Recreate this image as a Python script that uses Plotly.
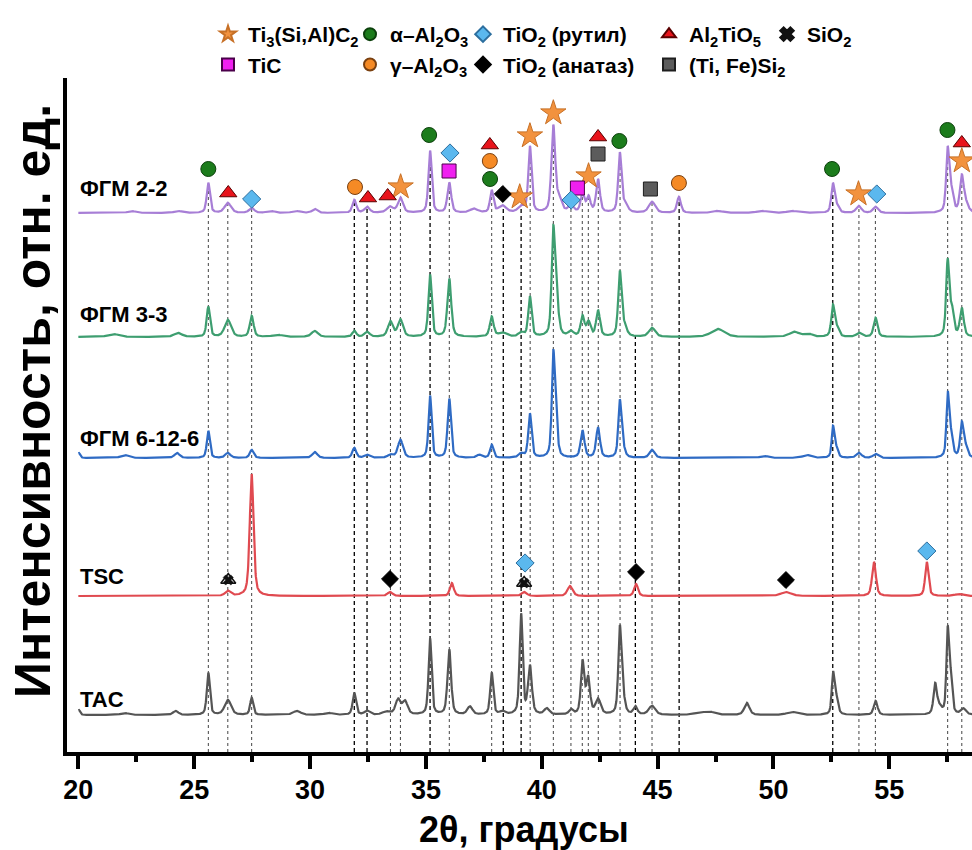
import numpy as np
import plotly.graph_objects as go

# ---------------------------------------------------------------------------
# XRD patterns: baseline offset and peak table (2θ, height, FWHM) per sample,
# intensities in arbitrary units (patterns are stacked by their offsets)
# ---------------------------------------------------------------------------
two_theta_min, two_theta_max = 20.0, 58.6

fgm22_offset = 539
fgm22_peaks = [
    (22.3, 2, 0.3), (24.3, 2, 0.3), (25.61, 30, 0.13), (26.45, 10, 0.25),
    (27.48, 5, 0.2), (28.3, 2, 0.3), (29.4, 2, 0.3), (30.2, 4, 0.2),
    (31.91, 13, 0.15), (32.46, 6, 0.2), (33.45, 6, 0.25), (33.9, 15, 0.2),
    (35.18, 62, 0.13), (36.01, 30, 0.15), (37.07, 4, 0.3), (37.84, 22, 0.13),
    (38.3, 7, 0.3), (39.11, 6, 0.25), (39.49, 66, 0.13), (40.5, 86, 0.15),
    (40.75, 12, 0.2), (41.26, 7, 0.2), (41.76, 18, 0.15), (42.02, 15, 0.15),
    (42.43, 33, 0.15), (43.37, 59, 0.13), (43.6, 8, 0.2), (44.76, 11, 0.25),
    (45.92, 16, 0.15), (47.6, 2, 0.4), (49.5, 2, 0.4), (50.8, 2, 0.4),
    (52.57, 29, 0.13), (52.75, 6, 0.15), (53.68, 7, 0.2), (54.41, 6, 0.2),
    (57.52, 62, 0.12), (57.68, 20, 0.15), (58.13, 35, 0.15), (58.3, 8, 0.2),
]

fgm33_offset = 415
fgm33_peaks = [
    (21.5, 3, 0.4), (24.3, 4, 0.3), (25.61, 30, 0.13), (26.45, 17, 0.25),
    (27.48, 21, 0.15), (28.6, 2, 0.4), (30.2, 6, 0.25), (31.91, 6, 0.15),
    (32.46, 5, 0.2), (33.47, 15, 0.2), (33.9, 17, 0.2), (35.18, 62, 0.13),
    (36.01, 58, 0.15), (37.84, 20, 0.15), (38.3, 4, 0.3), (39.11, 4, 0.2),
    (39.49, 40, 0.13), (40.5, 104, 0.13), (40.65, 30, 0.15), (41.26, 5, 0.2),
    (41.76, 20, 0.15), (42.02, 14, 0.15), (42.43, 26, 0.15), (43.37, 63, 0.13),
    (43.55, 10, 0.2), (44.76, 9, 0.25), (47.6, 8, 0.5), (50.9, 5, 0.4),
    (51.5, 3, 0.3), (52.57, 31, 0.13), (52.75, 8, 0.15), (53.69, 4, 0.2),
    (54.41, 19, 0.15), (57.52, 74, 0.12), (57.7, 26, 0.15), (58.13, 28, 0.15),
]

fgm6126_offset = 294
fgm6126_peaks = [
    (20.02, 5, 0.1), (22.0, 3, 0.3), (24.26, 5, 0.2), (25.61, 27, 0.12),
    (26.45, 5, 0.2), (27.48, 8, 0.15), (30.2, 6, 0.2), (31.91, 10, 0.15),
    (32.46, 3, 0.2), (33.47, 3, 0.2), (33.9, 18, 0.2), (35.18, 62, 0.12),
    (36.01, 59, 0.13), (37.3, 3, 0.2), (37.84, 13, 0.13), (39.11, 4, 0.2),
    (39.49, 44, 0.13), (40.5, 100, 0.12), (40.62, 26, 0.13), (41.76, 27, 0.15),
    (42.43, 30, 0.15), (43.37, 55, 0.12), (43.5, 10, 0.15), (44.76, 8, 0.2),
    (49.6, 2, 0.3), (51.44, 3, 0.3), (52.57, 29, 0.1), (52.7, 10, 0.15),
    (53.69, 5, 0.2), (54.41, 4, 0.2), (57.52, 59, 0.1), (57.65, 24, 0.15),
    (58.13, 34, 0.13), (58.3, 10, 0.15),
]

tsc_offset = 156
tsc_peaks = [
    (26.45, 5, 0.2), (27.48, 122, 0.15), (33.45, 4, 0.2), (36.12, 13, 0.15),
    (39.24, 4, 0.2), (41.22, 10, 0.2), (44.07, 12, 0.15), (50.54, 4, 0.4),
    (54.34, 34, 0.15), (56.62, 34, 0.13), (58.0, 2, 0.3),
]

tac_offset = 37
tac_peaks = [
    (20.02, 5, 0.1), (22.0, 2, 0.3), (24.2, 4, 0.2), (25.61, 42, 0.12),
    (26.45, 15, 0.25), (27.48, 17, 0.12), (29.43, 4, 0.3), (30.8, 2, 0.3),
    (31.91, 22, 0.13), (32.46, 4, 0.2), (33.3, 3, 0.3), (33.8, 15, 0.2),
    (34.1, 13, 0.2), (35.18, 76, 0.12), (36.01, 65, 0.14), (36.9, 8, 0.2),
    (37.84, 42, 0.12), (38.3, 3, 0.2), (39.11, 100, 0.12), (39.49, 48, 0.15),
    (40.22, 6, 0.2), (41.26, 5, 0.15), (41.76, 52, 0.13), (42.0, 36, 0.15),
    (42.43, 15, 0.2), (43.37, 84, 0.12), (43.5, 17, 0.15), (44.04, 8, 0.15),
    (44.76, 9, 0.25), (46.8, 2, 0.4), (47.25, 3, 0.4), (48.85, 12, 0.2),
    (50.8, 3, 0.4), (52.57, 38, 0.1), (52.7, 18, 0.15), (54.41, 14, 0.15),
    (56.98, 29, 0.13), (57.15, 7, 0.2), (57.52, 81, 0.1), (57.65, 36, 0.12),
    (58.2, 6, 0.2),
]

sample_names = ["ФГМ 2-2", "ФГМ 3-3", "ФГМ 6-12-6", "TSC", "TAC"]

# ---------------------------------------------------------------------------
# Phase identification: (2θ, intensity level of the symbol)
# ---------------------------------------------------------------------------
ti3sic2_pos = [33.91, 39.05, 39.49, 40.50, 42.02, 53.67, 58.13]
ti3sic2_lvl = [565, 555, 616, 639, 576, 558, 591]
tic_pos = [36.0, 41.54]
tic_lvl = [581, 564]
alpha_al2o3_pos = [25.61, 35.14, 37.77, 43.35, 52.53, 57.51]
alpha_al2o3_lvl = [583, 617, 573, 611, 583, 622]
gamma_al2o3_pos = [31.94, 37.76, 45.92]
gamma_al2o3_lvl = [565, 591, 569]
rutile_pos = [27.48, 36.04, 41.27, 54.46, 39.28, 56.62]
rutile_lvl = [553, 599, 552, 558, 189, 201]
anatase_pos = [38.32, 33.45, 44.07, 50.54]
anatase_lvl = [558, 173, 180, 172]
al2tio5_pos = [26.47, 32.5, 33.35, 37.76, 42.43, 58.13]
al2tio5_lvl = [559, 554, 556, 607, 615, 609]
tifesi2_pos = [42.43, 44.69]
tifesi2_lvl = [598, 563]
sio2_pos = [26.47, 39.24]
sio2_lvl = [172, 169]

# Reflection guide lines (2θ)
guide_lines_strong = [31.91, 32.46, 35.18, 38.34, 39.11, 45.93, 52.56]
guide_lines_faint = [25.61, 26.45, 27.48, 33.47, 33.90, 36.01, 37.84, 39.50,
                     40.50, 41.26, 41.75, 42.01, 42.44, 43.38, 44.76, 53.69,
                     54.40, 57.52, 58.13]
guide_lines_from_fgm33 = [44.04]

x_ticks = [20, 25, 30, 35, 40, 45, 50, 55]


# ---------------------------------------------------------------------------
def pattern(offset, peaks, tt, broadening=1.3):
    """Stacked pattern built from a peak table (pseudo-Voigt profiles)."""
    y = np.full_like(tt, float(offset))
    eta = 0.5
    for pos, h, fwhm in peaks:
        u = (tt - pos) / (broadening * fwhm / 2.0)
        y += h * (eta / (1.0 + u ** 2) + (1 - eta) * np.exp(-np.log(2) * u ** 2))
    return y


tt = np.arange(two_theta_min, two_theta_max + 1e-9, 0.01)
curves = [
    pattern(fgm22_offset, fgm22_peaks, tt),
    pattern(fgm33_offset, fgm33_peaks, tt),
    pattern(fgm6126_offset, fgm6126_peaks, tt),
    pattern(tsc_offset, tsc_peaks, tt),
    pattern(tac_offset, tac_peaks, tt),
]
curve_colors = ["#A77ED6", "#3E9E70", "#2F6BC4", "#E04A50", "#555555"]
label_offsets = [fgm22_offset, fgm33_offset, fgm6126_offset, tsc_offset, tac_offset]

FONT = "Liberation Sans, Arial, sans-serif"

fig = go.Figure()


def guide_trace(positions, top_curve, color, width, dash):
    xs, ys = [], []
    for p in positions:
        xs += [p, p, None]
        ys += [0, float(np.interp(p, tt, top_curve)), None]
    return go.Scatter(x=xs, y=ys, mode="lines", hoverinfo="skip", showlegend=False,
                      line=dict(color=color, width=width, dash=dash))


fig.add_trace(guide_trace(guide_lines_faint, curves[0], "#444444", 1, "3px,3px"))
fig.add_trace(guide_trace(guide_lines_strong, curves[0], "#000000", 1.3, "4px,3px"))
fig.add_trace(guide_trace(guide_lines_from_fgm33, curves[1], "#000000", 1.3, "4px,3px"))

for name, y, color in zip(sample_names, curves, curve_colors):
    fig.add_trace(go.Scatter(x=tt, y=y, mode="lines", name=name, showlegend=False,
                             line=dict(color=color, width=2.2)))

# Sample labels at the left end of each pattern
label_y_shift = [10, 8, 5, 5, 1]
for name, off, dy in zip(sample_names, label_offsets, label_y_shift):
    fig.add_annotation(x=20.0, y=off, xref="x", yref="y", text=name, showarrow=False,
                       xanchor="left", yanchor="bottom", yshift=dy,
                       font=dict(family=FONT, size=22, color="black", weight="bold"))


def phase_trace(name, pos, lvl, symbol, size, fill, edge, legend):
    return go.Scatter(
        x=pos, y=lvl, mode="markers", name=name, legend=legend, cliponaxis=False,
        marker=dict(symbol=symbol, size=size, color=fill,
                    line=dict(color=edge, width=1)),
    )


fig.add_trace(phase_trace("Ti<sub>3</sub>(Si,Al)C<sub>2</sub>", ti3sic2_pos, ti3sic2_lvl,
                          "star", 19, "#F2923E", "#C77026", "legend"))
fig.add_trace(phase_trace("TiC", tic_pos, tic_lvl, "square", 14, "#F020F0", "#4A004A", "legend"))
fig.add_trace(phase_trace("α–Al<sub>2</sub>O<sub>3</sub>", alpha_al2o3_pos, alpha_al2o3_lvl,
                          "circle", 15, "#1C7C1C", "#0C400C", "legend2"))
fig.add_trace(phase_trace("γ–Al<sub>2</sub>O<sub>3</sub>", gamma_al2o3_pos, gamma_al2o3_lvl,
                          "circle", 15, "#F58A25", "#7A4010", "legend2"))
fig.add_trace(phase_trace("TiO<sub>2</sub> (рутил)", rutile_pos, rutile_lvl,
                          "diamond", 14, "#5BB8EE", "#2C6E9E", "legend3"))
fig.add_trace(phase_trace("TiO<sub>2</sub> (анатаз)", anatase_pos, anatase_lvl,
                          "diamond", 13, "#000000", "#000000", "legend3"))
fig.add_trace(phase_trace("Al<sub>2</sub>TiO<sub>5</sub>", al2tio5_pos, al2tio5_lvl,
                          "triangle-up", 15, "#E8141C", "#5A0000", "legend4"))
fig.add_trace(phase_trace("(Ti, Fe)Si<sub>2</sub>", tifesi2_pos, tifesi2_lvl,
                          "square", 14, "#5C5C5C", "#1E1E1E", "legend4"))
fig.add_trace(go.Scatter(
    x=sio2_pos, y=sio2_lvl, mode="markers", name="SiO<sub>2</sub>", legend="legend5",
    cliponaxis=False,
    marker=dict(symbol="x", size=9, color="#111111", line=dict(color="#111111", width=0.5)),
))
fig.add_trace(go.Scatter(
    x=sio2_pos, y=sio2_lvl, mode="markers", showlegend=False, cliponaxis=False,
    marker=dict(symbol="triangle-up-open", size=13, color="#111111",
                line=dict(color="#111111", width=1.5)),
))

W, H = 972, 850
ml, mr, mt, mb = 67, 0, 78, 98
pw, ph = W - ml - mr, H - mt - mb

# Axis titles
fig.add_annotation(x=(524 - ml) / pw, y=(H - mb - 829) / ph, xref="paper", yref="paper",
                   showarrow=False, text="2θ, градусы", xanchor="center", yanchor="middle",
                   font=dict(family=FONT, size=36, color="black", weight="bold"))
fig.add_annotation(x=(33 - ml) / pw, y=(H - mb - 401) / ph, xref="paper", yref="paper",
                   showarrow=False, text="Интенсивность, отн. ед.", textangle=-90,
                   xanchor="center", yanchor="middle",
                   font=dict(family=FONT, size=50, color="black", weight="bold"))


def legend_box(marker_px, top_px):
    return dict(
        x=(marker_px - 20 - ml) / pw, y=(H - mb - top_px) / ph,
        xanchor="left", yanchor="top", orientation="v",
        bgcolor="rgba(0,0,0,0)", borderwidth=0, itemsizing="constant",
        font=dict(family=FONT, size=21, color="black", weight="bold"),
        tracegroupgap=0,
    )


fig.update_layout(
    width=W, height=H,
    margin=dict(l=ml, r=mr, t=mt, b=mb, autoexpand=False),
    paper_bgcolor="white", plot_bgcolor="white",
    font=dict(family=FONT, color="black"),
    legend=legend_box(228, 14),
    legend2=legend_box(370, 14),
    legend3=legend_box(483, 14),
    legend4=legend_box(669, 14),
    legend5=legend_box(787, 14),
    xaxis=dict(
        range=[19.51, 58.57], showgrid=False, zeroline=False,
        showline=True, linecolor="black", linewidth=4,
        tickmode="array", tickvals=x_ticks,
        ticks="outside", ticklen=13, tickwidth=4, tickcolor="black",
        minor=dict(ticks="outside", ticklen=6, tickwidth=4, tickcolor="black",
                   tick0=22.5, dtick=5, showgrid=False),
        tickfont=dict(family=FONT, size=27, color="black", weight="bold"),
        ticklabelstandoff=-2,
    ),
    yaxis=dict(
        range=[0, 674], showgrid=False, zeroline=False,
        showline=True, linecolor="black", linewidth=4,
        showticklabels=False, ticks="",
    ),
)

fig.write_html("out.html")
